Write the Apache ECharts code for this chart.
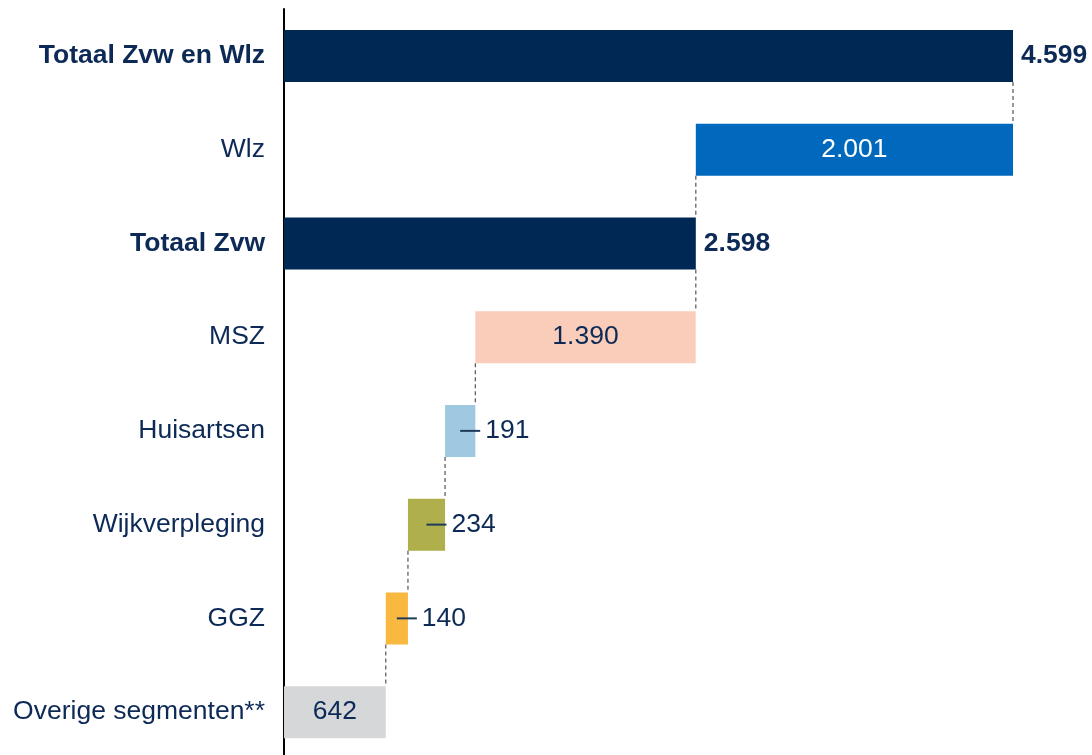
<!DOCTYPE html>
<html>
<head>
<meta charset="utf-8">
<script src="https://cdn.jsdelivr.net/npm/echarts@6/dist/echarts.min.js"></script>
<style>
  html, body { margin: 0; padding: 0; background: #fff; }
  #chart { width: 1092px; height: 755px; }
</style>
</head>
<body>
<div id="chart"></div>
<script>
// categories top -> bottom
const categories = ['Totaal Zvw en Wlz', 'Wlz', 'Totaal Zvw', 'MSZ', 'Huisartsen', 'Wijkverpleging', 'GGZ', 'Overige segmenten**'];
const values = [4599, 2001, 2598, 1390, 191, 234, 140, 642];
const isTotal = [true, false, true, false, false, false, false, false];
// how the value label is shown: out = bold right, in = inside, lead = with short line
const labelKind = ['out', 'in', 'out', 'in', 'lead', 'lead', 'lead', 'in'];
const barColors = ['#002855', '#0069BE', '#002855', '#F9CDB9', '#9FC9E1', '#AFAF4B', '#F9B840', '#D5D7D9'];
const labelColors = ['#0D2A57', '#ffffff', '#0D2A57', '#0D2A57', '#0D2A57', '#0D2A57', '#0D2A57', '#0D2A57'];

const navy = '#0D2A57';
const font = '"Liberation Sans", Arial, sans-serif';
const fs = 26.5;

// waterfall bases, built from the bottom up
const bases = new Array(values.length);
let running = 0;
for (let i = values.length - 1; i >= 0; i--) {
  if (isTotal[i]) { bases[i] = 0; running = values[i]; }
  else { bases[i] = running; running += values[i]; }
}
// connector x between row i and row i+1
const connectors = [];
for (let i = 0; i < values.length - 1; i++) {
  connectors.push([isTotal[i] ? values[i] : bases[i], i]);
}

const fmt = v => v.toString().replace(/\B(?=(\d{3})+(?!\d))/g, '.');

const barData = values.map((v, i) => {
  let label;
  if (labelKind[i] === 'out') {
    label = { show: true, position: 'right', distance: 8, fontWeight: 'bold', color: navy, fontSize: fs };
  } else if (labelKind[i] === 'in') {
    label = { show: true, position: 'inside', color: labelColors[i], fontSize: fs };
  } else {
    label = {
      show: true, position: ['50%', '50%'], align: 'left', verticalAlign: 'middle',
      formatter: p => '{ln|}{sp|}{v|' + fmt(p.value) + '}',
      rich: {
        ln: { width: 20, height: 2, backgroundColor: '#1f3a5c' },
        sp: { width: 5 },
        v: { fontSize: fs, color: navy, fontFamily: font }
      }
    };
  }
  return { value: v, itemStyle: { color: barColors[i] }, label: label };
});

const chart = echarts.init(document.getElementById('chart'));
chart.setOption({
  animation: false,
  backgroundColor: '#fff',
  textStyle: { fontFamily: font },
  grid: { left: 284, top: 9, width: 729, height: 750, outerBoundsMode: 'none', containLabel: false },
  xAxis: { type: 'value', min: 0, max: 4599, show: false },
  yAxis: {
    type: 'category', inverse: true, data: categories,
    axisLine: { show: true, lineStyle: { color: '#000', width: 2 } },
    axisTick: { show: false },
    axisLabel: {
      margin: 19, fontSize: fs, color: navy, fontFamily: font,
      formatter: (v, i) => isTotal[i] ? '{b|' + v + '}' : v,
      rich: { b: { fontWeight: 'bold', fontSize: fs, color: navy, fontFamily: font } }
    }
  },
  series: [
    {
      type: 'bar', stack: 'w', barWidth: 52, silent: true,
      itemStyle: { color: 'transparent' },
      data: bases
    },
    {
      type: 'bar', stack: 'w', barWidth: 52,
      label: { fontFamily: font, formatter: p => fmt(p.value) },
      data: barData
    },
    {
      type: 'custom',
      data: connectors,
      renderItem: (params, api) => {
        const x = api.value(0), i = api.value(1);
        const p1 = api.coord([x, i]);
        const p2 = api.coord([x, i + 1]);
        return {
          type: 'line',
          shape: { x1: p1[0], y1: p1[1] + 26, x2: p2[0], y2: p2[1] - 26 },
          style: { stroke: '#555', lineWidth: 1.2, lineDash: [4, 3] }
        };
      },
      z: 3
    }
  ]
});
</script>
</body>
</html>
